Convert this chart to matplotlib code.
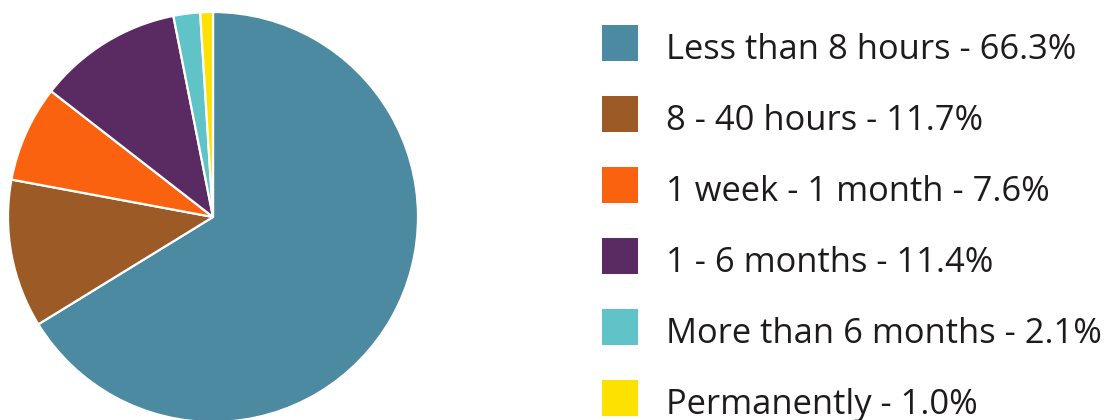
import matplotlib.pyplot as plt
from matplotlib.patches import Rectangle

# dados do gráfico
categorias = ["Less than 8 hours", "8 - 40 hours", "1 week - 1 month",
              "1 - 6 months", "More than 6 months", "Permanently"]
valores = [66.3, 11.7, 7.6, 11.4, 2.1, 1.0]
cores = ["#4b8aa1", "#9c5a26", "#fb620f", "#5a2a63", "#5fc3c7", "#fde100"]

plt.rcParams['font.family'] = ['Open Sans', 'DejaVu Sans']

W, H = 1115, 420
fig = plt.figure(figsize=(W / 100, H / 100), dpi=100)
ax = fig.add_axes([0, 0, 1, 1])

# pizza em coordenadas de pixel (y para cima)
ax.pie(valores, colors=cores, startangle=90, counterclock=False,
       center=(213, H - 217), radius=205,
       wedgeprops={'edgecolor': 'white', 'linewidth': 1.6})

# legenda desenhada à mão
for i, (cat, val, cor) in enumerate(zip(categorias, valores, cores)):
    yc = H - (43 + 71 * i)
    ax.add_patch(Rectangle((602, yc - 18), 36, 36, facecolor=cor, edgecolor='none'))
    ax.text(666, H - (59 + 71 * i), f"{cat} - {val:.1f}%", fontsize=24.8,
            color='#1e1b1c', va='baseline', ha='left')

ax.set_xlim(0, W)
ax.set_ylim(0, H)
ax.set_aspect('equal')
ax.axis('off')

fig.savefig('out.png', dpi=100)
